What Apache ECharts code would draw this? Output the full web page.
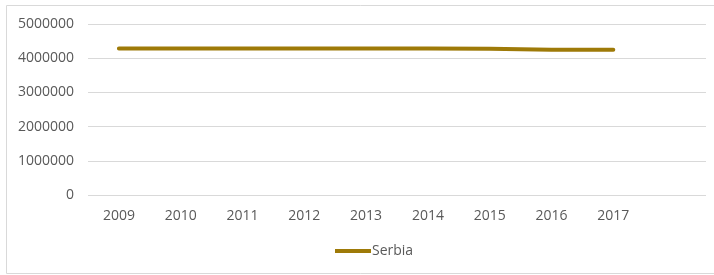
<!DOCTYPE html>
<html>
<head>
<meta charset="utf-8">
<script src="https://cdn.jsdelivr.net/npm/echarts@6/dist/echarts.min.js"></script>
<style>
  html, body { margin: 0; padding: 0; background: #fff; }
  #chart { width: 714px; height: 275px; }
</style>
</head>
<body>
<div id="chart"></div>
<script>
  // data
  const years = ['2009', '2010', '2011', '2012', '2013', '2014', '2015', '2016', '2017', '']
  const serbia = [4285000, 4284000, 4283000, 4282000, 4281000, 4280000, 4278000, 4250000, 4245000, null]
  const yTicks = { min: 0, max: 5000000, interval: 1000000 }

  const chart = echarts.init(document.getElementById('chart'))
  const font = '"Open Sans", "Noto Sans", sans-serif'

  const options = {
    animation: false,
    color: ['#9e7a08'],
    textStyle: { fontFamily: font },
    graphic: [{
      type: 'rect',
      shape: { x: 6.5, y: 5.5, width: 720, height: 268 },
      style: { fill: 'none', stroke: '#d9d9d9', lineWidth: 1 },
      silent: true
    }],
    grid: {
      left: 88,
      right: 8,
      top: 24,
      bottom: 80
    },
    legend: {
      data: ['Serbia'],
      left: 330,
      top: 239,
      itemWidth: 36,
      itemHeight: 4,
      icon: 'rect',
      textStyle: {
        color: '#595959',
        fontSize: 14,
        fontFamily: font,
        padding: [0, 0, 0, -4]
      }
    },
    xAxis: {
      type: 'category',
      boundaryGap: true,
      data: years,
      axisTick: { show: false },
      axisLine: { show: false },
      axisLabel: {
        color: '#595959',
        fontSize: 14,
        fontFamily: font,
        margin: 14,
        interval: 0
      }
    },
    yAxis: {
      type: 'value',
      min: yTicks.min,
      max: yTicks.max,
      interval: yTicks.interval,
      axisLine: { show: false },
      axisTick: { show: false },
      axisLabel: {
        color: '#595959',
        fontSize: 14,
        fontFamily: font,
        margin: 14,
        formatter: function (v) { return String(v) }
      },
      splitLine: {
        show: true,
        lineStyle: { color: '#d9d9d9', width: 1 }
      }
    },
    series: [{
      name: 'Serbia',
      type: 'line',
      data: serbia,
      symbol: 'none',
      lineStyle: { width: 4, color: '#9e7a08', cap: 'round' }
    }]
  }

  chart.setOption(options, true)
</script>
</body>
</html>
